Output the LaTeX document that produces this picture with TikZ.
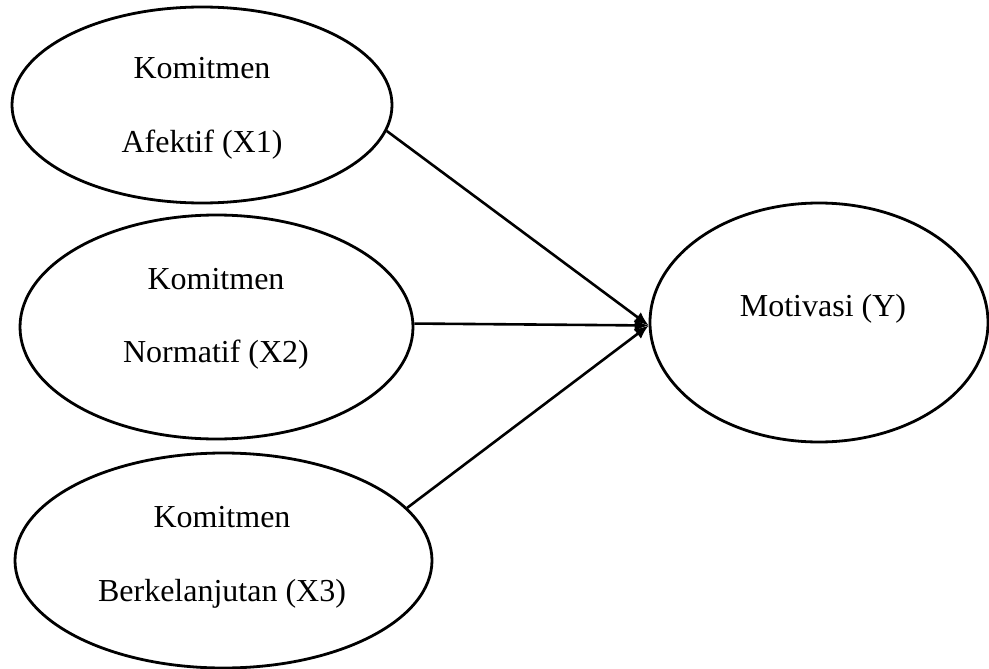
\documentclass[tikz,border=0pt]{standalone}
\usepackage{fontspec}
\setmainfont{Liberation Serif}
\usetikzlibrary{shapes.geometric,arrows.meta}
\begin{document}
\begin{tikzpicture}[x=1pt,y=-1pt,
  oval/.style={draw,ellipse,line width=2.8pt,inner sep=0pt},
  lbl/.style={font=\fontsize{32}{38}\selectfont,inner sep=0pt,anchor=base},
  conn/.style={line width=2.6pt,-{Latex[length=14pt,width=12pt]}}]
\useasboundingbox (0,0) rectangle (989,669);
\node[oval,minimum width=380pt,minimum height=196pt] (e1) at (202,105) {};
\node[oval,minimum width=393pt,minimum height=224pt] (e2) at (216.5,327) {};
\node[oval,minimum width=417pt,minimum height=215pt] (e3) at (223.5,560.5) {};
\node[oval,minimum width=338pt,minimum height=239pt] (e4) at (819,322.5) {};
\node[lbl] (t1a) at (202,79) {Komitmen};
\node[lbl] (t1b) at (202,152) {Afektif (X1)};
\node[lbl] (t2a) at (216,289) {Komitmen};
\node[lbl] (t2b) at (216,362) {Normatif (X2)};
\node[lbl] (t3a) at (222,527) {Komitmen};
\node[lbl] (t3b) at (222,601) {Berkelanjutan (X3)};
\node[lbl] (t4) at (823,316) {Motivasi (Y)};
\draw[conn] (e1.352) -- (e4.181);
\draw[conn] (e2.1) -- (e4.181);
\draw[conn] (e3.16) -- (e4.181);
\end{tikzpicture}
\end{document}
